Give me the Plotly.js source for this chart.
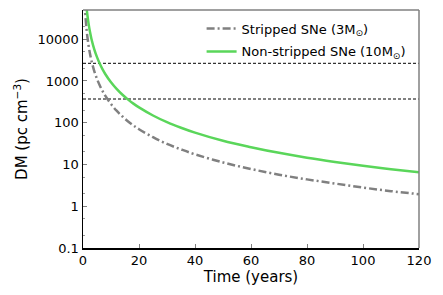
<!DOCTYPE html>
<html><head><meta charset="utf-8">
<script src="https://cdn.plot.ly/plotly-3.0.1.min.js"></script>
<style>html,body{margin:0;padding:0;background:#fff}#chart{width:443px;height:295px}</style>
</head><body><div id="chart"></div>
<script>
// Time (years) sample points
const strippedTime = [0.6, 0.8, 1, 1.25, 1.5, 2, 2.5, 3, 4, 5, 6, 7, 8, 10, 12, 14, 16, 18, 20, 25, 30, 35, 40, 50, 60, 70, 80, 90, 100, 110, 120];
const strippedDM   = [77800, 43750, 28000, 17900, 12400, 7000, 4480, 3110, 1750, 1120, 778, 571, 438, 280, 194, 143, 109, 86, 70, 45, 31, 23, 17.5, 11.2, 7.8, 5.7, 4.4, 3.5, 2.8, 2.3, 1.95];
const nonStrippedTime = [1.2, 1.5, 2, 2.5, 3, 4, 5, 6, 7, 8, 10, 12, 14, 16, 18, 20, 25, 30, 35, 40, 50, 60, 70, 80, 90, 100, 110, 120];
const nonStrippedDM   = [64600, 41300, 23250, 14900, 10300, 5800, 3720, 2580, 1900, 1450, 930, 646, 474, 363, 287, 233, 149, 103, 76, 58, 37, 26, 19, 14.5, 11.5, 9.3, 7.7, 6.5];
const hLineX = [0, 120];
const hLineLevels = [2650, 370];
const xTicks = [0, 20, 40, 60, 80, 100, 120];
const yTicks = [0.1, 1, 10, 100, 1000, 10000];
const yTickText = ['0.1', '1', '10', '100', '1000', '10000'];

const traces = [];
hLineLevels.forEach(v => traces.push({
  x: hLineX, y: [v, v], mode: 'lines', showlegend: false, hoverinfo: 'skip',
  line: {color: '#000', width: 1, dash: '3px,2px'}
}));
traces.push({
  x: strippedTime, y: strippedDM, mode: 'lines', name: 'Stripped SNe (3M<sub>⊙</sub>)', legendgroup: 'a',
  line: {color: '#808080', width: 2.5, dash: '8px,3px,2px,3px', shape: 'spline'}
});
traces.push({
  x: nonStrippedTime, y: nonStrippedDM, mode: 'lines', name: 'Non-stripped SNe (10M<sub>⊙</sub>)', legendgroup: 'b',
  line: {color: '#5ad65a', width: 2.5, shape: 'spline'}
});

const font = {family: 'DejaVu Sans', size: 13, color: '#000'};
const layout = {
  width: 443, height: 295,
  margin: {l: 83, r: 24, t: 10, b: 47},
  paper_bgcolor: '#fff', plot_bgcolor: '#fff',
  font: font,
  showlegend: true,
  legend: {x: 0.975, y: 0.985, xanchor: 'right', yanchor: 'top', bgcolor: 'rgba(0,0,0,0)',
           font: {family: 'DejaVu Sans', size: 13, color: '#000'}, tracegroupgap: 3, itemwidth: 30},
  xaxis: {
    range: [0, 120], tickvals: xTicks, ticktext: xTicks.map(String),
    ticks: 'inside', ticklen: 4, tickcolor: '#808080', tickwidth: 1,
    showgrid: false, zeroline: false, showline: true, linecolor: '#000', linewidth: 1.5,
    tickfont: font,
    title: {text: 'Time (years)', font: {family: 'DejaVu Sans', size: 15, color: '#000'}, standoff: 4}
  },
  yaxis: {
    type: 'log', range: [-1, 4.7], tickvals: yTicks, ticktext: yTickText,
    ticks: 'inside', ticklen: 4, tickcolor: '#808080', tickwidth: 1,
    minor: {ticks: 'inside', ticklen: 2, tickcolor: '#999', showgrid: false},
    showgrid: false, zeroline: false, showline: true, linecolor: '#000', linewidth: 1.5,
    tickfont: font,
    title: {text: 'DM (pc cm<sup>−3</sup>)', font: {family: 'DejaVu Sans', size: 15, color: '#000'}, standoff: 6}
  },
  shapes: [
    {type: 'line', xref: 'paper', yref: 'paper', x0: 0, x1: 1, y0: 1, y1: 1, line: {color: '#808080', width: 1.5}},
    {type: 'line', xref: 'paper', yref: 'paper', x0: 1, x1: 1, y0: 0, y1: 1, line: {color: '#808080', width: 1.5}}
  ]
};
Plotly.newPlot('chart', traces, layout, {displayModeBar: false, staticPlot: true});
</script></body></html>
